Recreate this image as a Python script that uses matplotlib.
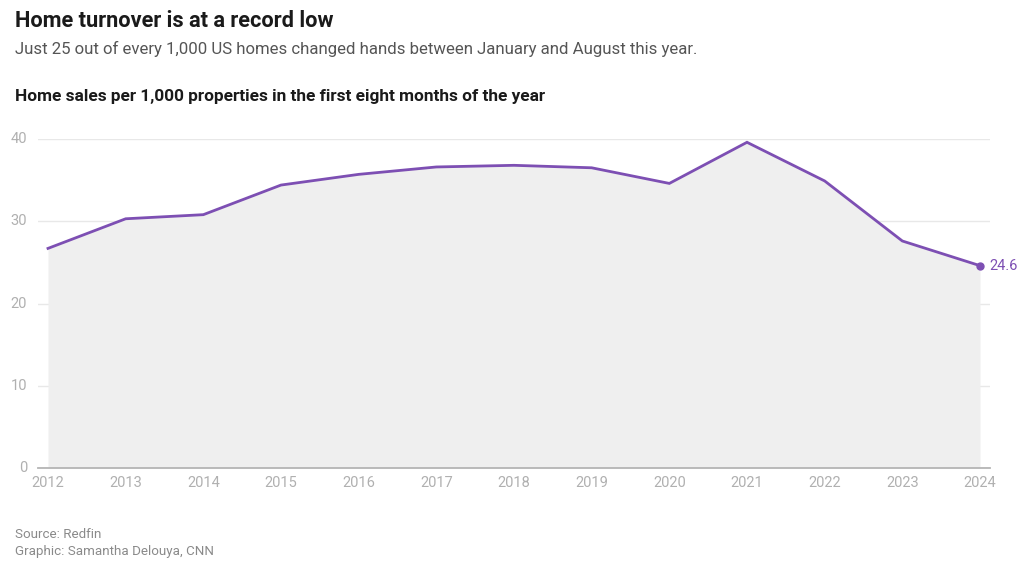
import matplotlib
matplotlib.use("Agg")
import matplotlib.pyplot as plt
from matplotlib import font_manager

years = [2012, 2013, 2014, 2015, 2016, 2017, 2018, 2019, 2020, 2021, 2022, 2023, 2024]
sales = [26.7, 30.3, 30.8, 34.4, 35.7, 36.6, 36.8, 36.5, 34.6, 39.6, 34.9, 27.6, 24.6]
yticks = [0, 10, 20, 30, 40]

plt.rcParams['font.family'] = ['Roboto', 'DejaVu Sans']

purple = "#7d4fb3"
fig = plt.figure(figsize=(10.24, 5.77), dpi=100)
W, H = 1024, 577
ax = fig.add_axes([38 / W, 1 - 468 / H, (990 - 38) / W, (468 - 139) / H])

ax.fill_between(years, sales, 0, color="#efefef", lw=0)
ax.plot(years, sales, color=purple, lw=2, solid_joinstyle="miter")
ax.plot(years[-1], sales[-1], "o", color=purple, ms=5)
ax.annotate(f"{sales[-1]}", (years[-1], sales[-1]), xytext=(7, 0), textcoords="offset points",
            va="center", ha="left", color=purple, fontsize=10.5)

pad = 10 / ((980 - 48) / 12)
ax.set_xlim(years[0] - pad, years[-1] + pad)
ax.set_ylim(0, 40)
ax.set_yticks(yticks)
ax.set_xticks(years)
ax.set_xticklabels([str(y) for y in years])
ax.grid(axis="y", color="#e8e8e8", lw=1)
ax.set_axisbelow(True)
for s in ["top", "right", "left"]:
    ax.spines[s].set_visible(False)
ax.spines["bottom"].set_color("#b5b5b5")
ax.spines["bottom"].set_linewidth(1.3)
ax.tick_params(axis="y", length=0, pad=8, labelsize=10.5, labelcolor="#b0b0b0")
ax.tick_params(axis="x", length=0, pad=6, labelsize=10.5, labelcolor="#b0b0b0")
for lbl in ax.get_yticklabels():
    lbl.set_verticalalignment("center")

fig.text(15 / W, 1 - 21 / H, "Home turnover is at a record low", fontsize=15.7, fontweight="bold",
         color="#1a1a1a", va="center", ha="left")
fig.text(15 / W, 1 - 49 / H, "Just 25 out of every 1,000 US homes changed hands between January and August this year.",
         fontsize=12.1, color="#555555", va="center", ha="left")
fig.text(15 / W, 1 - 97 / H, "Home sales per 1,000 properties in the first eight months of the year",
         fontsize=12.4, fontweight="bold", color="#1a1a1a", va="center", ha="left")
fig.text(15 / W, 1 - 535 / H, "Source: Redfin", fontsize=9.6, color="#8a8a8a", va="center", ha="left")
fig.text(15 / W, 1 - 552 / H, "Graphic: Samantha Delouya, CNN", fontsize=9.6, color="#8a8a8a", va="center", ha="left")

fig.savefig("out.png", dpi=100)
